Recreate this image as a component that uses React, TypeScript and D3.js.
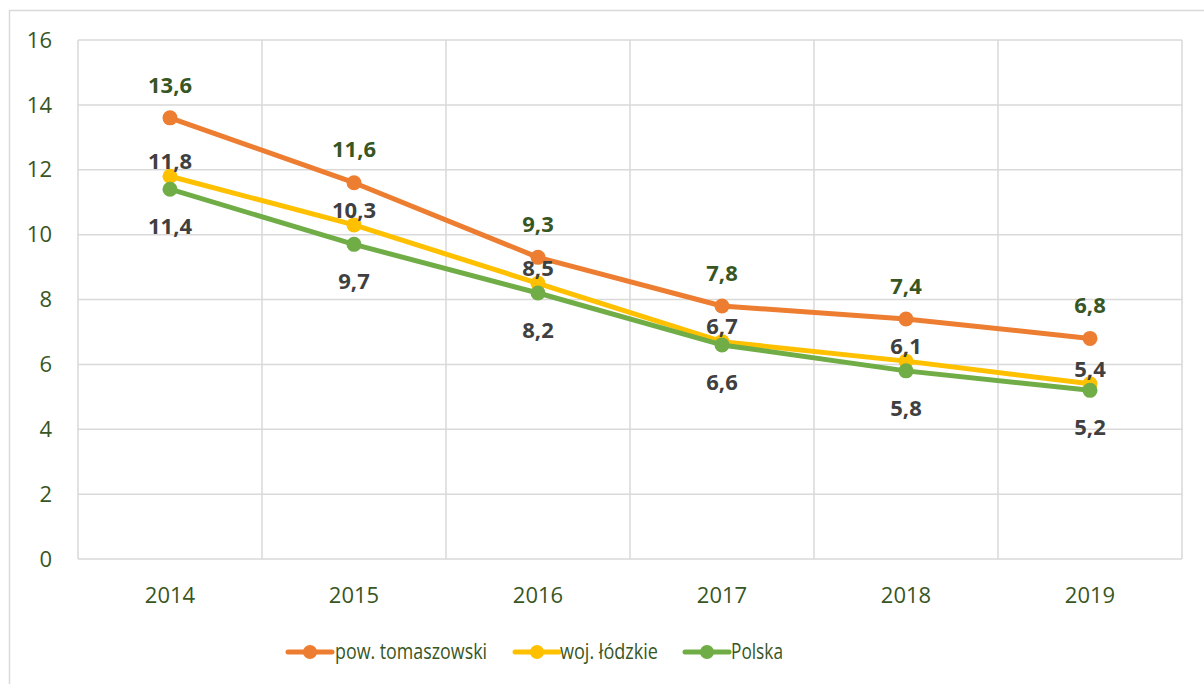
import React from "react";
import * as d3 from "d3";

const years = ["2014", "2015", "2016", "2017", "2018", "2019"];
const powTomaszowski = [13.6, 11.6, 9.3, 7.8, 7.4, 6.8];
const wojLodzkie = [11.8, 10.3, 8.5, 6.7, 6.1, 5.4];
const polska = [11.4, 9.7, 8.2, 6.6, 5.8, 5.2];
const yTicks = [0, 2, 4, 6, 8, 10, 12, 14, 16];
const seriesNames = ["pow. tomaszowski", "woj. łódzkie", "Polska"];

const W = 1204;
const H = 684;
const FONT = "'Open Sans', 'Noto Sans', sans-serif";
const GRID = "#D9D9D9";
const AXIS_TEXT = "#375623";
const LABEL_DARK = "#404040";

const series = [
  { name: seriesNames[0], values: powTomaszowski, color: "#ED7D31", labelColor: AXIS_TEXT, dy: -33 },
  { name: seriesNames[1], values: wojLodzkie, color: "#FFC000", labelColor: LABEL_DARK, dy: -15 },
  { name: seriesNames[2], values: polska, color: "#70AD47", labelColor: LABEL_DARK, dy: 37 },
];

const fmt = (v: number) => v.toFixed(1).replace(".", ",");

export default function App() {
  const x = d3.scaleBand<string>().domain(years).range([78, 1182]);
  const y = d3.scaleLinear().domain([0, 16]).range([559, 40]);
  const cx = (d: string) => (x(d) ?? 0) + x.bandwidth() / 2;
  const line = d3
    .line<number>()
    .x((_, i) => cx(years[i]))
    .y((v) => y(v));

  const legendItems = [
    { lineX: 288, textX: 335, w: 152 },
    { lineX: 515, textX: 560, w: 98 },
    { lineX: 685, textX: 731, w: 52 },
  ];

  return (
    <svg
      width={W}
      height={H}
      style={{ position: "absolute", left: 0, top: 0, background: "#fff" }}
      fontFamily={FONT}
    >
      <rect x={9.5} y={10.5} width={W + 10} height={H + 10} fill="#fff" stroke={GRID} strokeWidth={1.5} />
      {yTicks.map((t) => (
        <line key={"h" + t} x1={78} x2={1182} y1={y(t)} y2={y(t)} stroke={GRID} strokeWidth={1.5} />
      ))}
      {years.map((d) => (
        <line key={"v" + d} x1={x(d)} x2={x(d)} y1={40} y2={559} stroke={GRID} strokeWidth={1.5} />
      ))}
      <line x1={1182} x2={1182} y1={40} y2={559} stroke={GRID} strokeWidth={1.5} />
      {yTicks.map((t) => (
        <text key={"yt" + t} x={52} y={y(t)} dy="0.35em" textAnchor="end" fontSize={22} fill={AXIS_TEXT}>
          {t}
        </text>
      ))}
      {years.map((d) => (
        <text key={"xt" + d} x={cx(d)} y={595} dy="0.35em" textAnchor="middle" fontSize={22} fill={AXIS_TEXT}>
          {d}
        </text>
      ))}
      {series.map((s) => (
        <g key={s.name}>
          <path d={line(s.values) ?? ""} fill="none" stroke={s.color} strokeWidth={5} strokeLinejoin="round" />
          {s.values.map((v, i) => (
            <circle key={i} cx={cx(years[i])} cy={y(v)} r={7.5} fill={s.color} />
          ))}
        </g>
      ))}
      {series.map((s) => (
        <g key={"lbl" + s.name}>
          {s.values.map((v, i) => (
            <text
              key={i}
              x={cx(years[i])}
              y={y(v) + s.dy}
              dy="0.35em"
              textAnchor="middle"
              fontSize={22}
              fontWeight="bold"
              fill={s.labelColor}
            >
              {fmt(v)}
            </text>
          ))}
        </g>
      ))}
      {series.map((s, i) => (
        <g key={"lg" + s.name}>
          <line
            x1={legendItems[i].lineX}
            x2={legendItems[i].lineX + 44}
            y1={652}
            y2={652}
            stroke={s.color}
            strokeWidth={5}
            strokeLinecap="round"
          />
          <circle cx={legendItems[i].lineX + 22} cy={652} r={7} fill={s.color} />
          <text
            x={legendItems[i].textX}
            y={652}
            dy="0.35em"
            fontSize={21}
            fill={AXIS_TEXT}
            textLength={legendItems[i].w}
            lengthAdjust="spacingAndGlyphs"
          >
            {s.name}
          </text>
        </g>
      ))}
    </svg>
  );
}
